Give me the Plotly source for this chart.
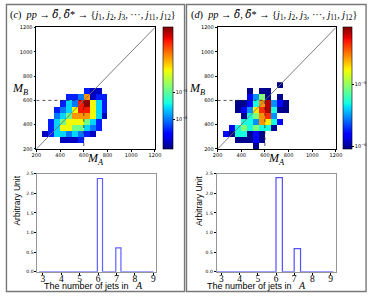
import numpy as np
import plotly.graph_objects as go

W, H = 374, 298
_ = None

# ---------------- data ----------------
mass_edges_start = 200          # GeV, bins of 50 GeV
mass_bin = 50
tick_mass = [200, 400, 600, 800, 1000, 1200]

# left panel (c): density per 50x50 GeV cell, rows = M_B bins from 200, cols = M_A bins from 200
dens_c = [
    [_, _, _, _, _, _, _, _, _, _, _, _, _, _],
    [_, _, _, _, 1.5e-7, 1.5e-7, 1.5e-7, 4e-7, _, _, _, _, _, _],
    [_, 1.5e-7, 4e-7, 2.5e-6, 2.5e-6, 1e-6, 2.5e-6, 1e-6, 4e-7, 1.5e-7, _, _, _, _],
    [_, _, 4e-7, 2.5e-6, 6e-5, 6e-5, 1.2e-5, 1.2e-5, 2.5e-6, 1e-6, 4e-7, _, _, _],
    [_, _, 4e-7, 2.5e-6, 1.2e-5, 6e-5, 6e-5, 6e-5, 1.2e-5, 2.5e-6, 4e-7, _, _, _],
    [_, _, _, 1e-6, 2.5e-6, 1.2e-5, 1.8e-4, 1.8e-4, 1.8e-4, 6e-5, 2.5e-6, 1.5e-7, _, _],
    [_, _, _, 4e-7, 1e-6, 2.5e-6, 6e-5, 7e-4, 7e-4, 6e-5, 2.5e-6, 4e-7, _, _],
    [_, _, _, _, 4e-7, 2.5e-6, 1e-6, 7e-4, 2e-3, 6e-5, 2.5e-6, 4e-7, _, _],
    [_, _, _, _, _, 4e-7, 4e-7, 1e-6, 1.8e-4, 1.5e-7, 4e-7, 4e-7, _, _],
    [_, _, _, _, _, _, _, _, 4e-7, 1.5e-7, 1.5e-7, _, _, _],
    [_, _, _, _, _, _, _, _, _, _, _, _, _, _],
]
# right panel (d)
dens_d = [
    [_, _, _, _, _, _, 9.5e-7, _, _, _, _, _, _, _],
    [_, _, _, 9.5e-7, 9.5e-7, 9.5e-7, 1.6e-6, 9.5e-7, _, _, _, _, _, _],
    [_, 1.6e-6, 9.5e-7, 5e-6, 5e-6, 9.5e-7, 1.6e-6, 9.5e-7, _, _, _, _, _, _],
    [_, _, 1.6e-6, 5e-6, 9e-6, 5e-6, 9e-6, 5e-6, 5e-6, 9.5e-7, _, _, _, _],
    [_, _, _, _, 5e-6, 5e-6, 3e-6, 2.8e-5, 1.8e-5, 5e-6, 1.6e-6, _, _, _],
    [_, _, _, _, 9.5e-7, 5e-6, 9e-6, 2.8e-5, 4.5e-5, 3e-6, _, _, _, _],
    [_, _, _, 9.5e-7, 1.6e-6, 3e-6, 1.8e-5, 4.5e-5, 7e-5, 5e-6, 9.5e-7, 9.5e-7, _, _],
    [_, _, _, 9.5e-7, 9.5e-7, 1.6e-6, 5e-6, 2.8e-5, 7e-5, 3e-6, 1.6e-6, 9.5e-7, _, _],
    [_, _, _, _, _, 1.6e-6, 3e-6, 9e-6, 9.5e-7, _, 9.5e-7, _, _, _],
    [_, _, _, _, _, 9.5e-7, _, 9.5e-7, 9.5e-7, _, _, _, _, _],
    [_, _, _, _, _, _, _, _, _, _, 9.5e-7, _, _, _],
]
cbar_range_c = (-7.08, -2.64)   # log10 density
cbar_range_d = (-6.05, -4.07)

# jet-number histograms
n_jets = [3, 4, 5, 6, 7, 8]
hist_c = [0.0, 0.0, 0.0, 2.38, 0.61, 0.015]
hist_d = [0.0, 0.0, 0.0, 2.40, 0.59, 0.015]
hist_xticks = [3, 4, 5, 6, 7, 8, 9]
hist_yticks = [0.0, 0.5, 1.0, 1.5, 2.0, 2.5]


# ---------------- helpers ----------------
def px_x(p):
    return p / W


def px_y(p):
    return 1 - p / H


def jet_scale():
    r = [(0, 0), (0.35, 0), (0.66, 1), (0.89, 1), (1, 0.5)]
    g = [(0, 0), (0.125, 0), (0.375, 1), (0.64, 1), (0.91, 0), (1, 0)]
    b = [(0, 0.5), (0.11, 1), (0.34, 1), (0.65, 0), (1, 0)]
    stops = sorted(set([s for s, _v in r + g + b]))
    out = []
    for s in stops:
        rr = np.interp(s, [a for a, _v in r], [v for _a, v in r])
        gg = np.interp(s, [a for a, _v in g], [v for _a, v in g])
        bb = np.interp(s, [a for a, _v in b], [v for _a, v in b])
        out.append([s, f"rgb({int(rr*255)},{int(gg*255)},{int(bb*255)})"])
    return out


JET = jet_scale()

fig = go.Figure()

panels = [
    dict(dens=dens_c, cr=cbar_range_c, x0=32.3, x1=154.5, cbx=162.5, cbw=9.5,
         xa="x", ya="y", xaxis="xaxis", yaxis="yaxis"),
    dict(dens=dens_d, cr=cbar_range_d, x0=219.0, x1=341.0, cbx=348.0, cbw=8.5,
         xa="x2", ya="y2", xaxis="xaxis2", yaxis="yaxis2"),
]
hy0, hy1 = 25.0, 149.0

for p in panels:
    dens = p["dens"]
    nrow, ncol = len(dens), len(dens[0])
    xc = [mass_edges_start + mass_bin * (i + 0.5) for i in range(ncol)]
    yc = [mass_edges_start + mass_bin * (j + 0.5) for j in range(nrow)]
    z = [[(np.log10(v) if v is not None else None) for v in row] for row in dens]
    fig.add_trace(go.Heatmap(
        x=xc, y=yc, z=z, xaxis=p["xa"], yaxis=p["ya"],
        colorscale=JET, zmin=p["cr"][0], zmax=p["cr"][1], hoverongaps=False,
        colorbar=dict(
            x=px_x(p["cbx"]), xanchor="left", y=px_y((hy0 + hy1) / 2), yanchor="middle",
            len=(hy1 - hy0) / H, lenmode="fraction", thickness=p["cbw"], thicknessmode="pixels",
            xpad=0, ypad=0, outlinewidth=0.6, outlinecolor="black",
            tickvals=[-5, -6], ticktext=["10<sup>−5</sup>", "10<sup>−6</sup>"],
            ticks="outside", ticklen=2, tickwidth=0.6, tickcolor="black",
            tickfont=dict(size=5, family="DejaVu Sans", color="black"),
        ),
    ))
    # diagonal and guide lines
    fig.add_trace(go.Scatter(x=[200, 1200], y=[200, 1200], mode="lines",
                             line=dict(color="rgb(110,110,110)", width=0.9),
                             xaxis=p["xa"], yaxis=p["ya"], showlegend=False, hoverinfo="skip"))
    fig.add_trace(go.Scatter(x=[200, 600, 600], y=[600, 600, 200], mode="lines",
                             line=dict(color="rgb(40,40,40)", width=0.8, dash="dot"),
                             xaxis=p["xa"], yaxis=p["ya"], showlegend=False, hoverinfo="skip"))
    ax_common = dict(range=[200, 1200], tickvals=tick_mass, ticks="outside", ticklen=2,
                     tickwidth=0.6, tickcolor="black", showgrid=False, zeroline=False,
                     showline=True, mirror=True, linecolor="black", linewidth=0.7,
                     tickfont=dict(size=5, family="DejaVu Sans", color="black"))
    fig.update_layout(**{
        p["xaxis"]: dict(domain=[px_x(p["x0"]), px_x(p["x1"])], anchor=p["ya"],
                         ticklabelstandoff=-1, **ax_common),
        p["yaxis"]: dict(domain=[px_y(hy1), px_y(hy0)], anchor=p["xa"], **ax_common),
    })

# histograms
hpanels = [
    dict(vals=hist_c, x0=33.3, x1=155.7, xr=[2.70, 9.15], off=-0.04, w=0.28, base=[2.8, 9.0],
         xa="x3", ya="y3", xaxis="xaxis3", yaxis="yaxis3", col="rgb(95,95,255)"),
    dict(vals=hist_d, x0=218.0, x1=341.0, xr=[2.73, 9.30], off=0.0, w=0.35, base=[2.75, 9.15],
         xa="x4", ya="y4", xaxis="xaxis4", yaxis="yaxis4", col="rgb(80,80,255)"),
]
gy0, gy1 = 174.3, 274.3
for p in hpanels:
    xs, ys = [p["base"][0]], [0.0]
    for n, v in zip(n_jets, p["vals"]):
        if v > 0:
            a = n + p["off"]
            b = a + p["w"]
            xs += [a, a, b, b]
            ys += [0.0, v, v, 0.0]
    xs.append(p["base"][1])
    ys.append(0.0)
    fig.add_trace(go.Scatter(x=xs, y=ys, mode="lines", line=dict(color=p["col"], width=1.2),
                             xaxis=p["xa"], yaxis=p["ya"], showlegend=False, hoverinfo="skip"))
    fig.update_layout(**{
        p["xaxis"]: dict(domain=[px_x(p["x0"]), px_x(p["x1"])], anchor=p["ya"], range=p["xr"],
                         tickvals=hist_xticks, ticks="outside", ticklen=2, tickwidth=0.6,
                         tickcolor="black", showgrid=False, zeroline=False, showline=True,
                         mirror=True, linecolor="rgb(150,150,150)", linewidth=0.8,
                         ticklabelstandoff=-4,
                         tickfont=dict(size=9.5, family="Liberation Serif", color="black")),
        p["yaxis"]: dict(domain=[px_y(gy1), px_y(gy0)], anchor=p["xa"], range=[0, 2.5],
                         tickvals=hist_yticks, ticktext=[f"{t:.1f}" for t in hist_yticks],
                         ticks="outside", ticklen=2, tickwidth=0.6, tickcolor="black",
                         showgrid=False, zeroline=False, showline=True, mirror=True,
                         linecolor="rgb(150,150,150)", linewidth=0.8,
                         tickfont=dict(size=4.5, family="DejaVu Sans", color="black")),
    })

# text
dtil = "<span style='font-family:DejaVu Serif'><i>δ̃</i></span>"
title_body = (f"<i>pp</i> → {dtil}, {dtil}* → {{<i>j</i><sub>1</sub>, <i>j</i><sub>2</sub>, "
              "<i>j</i><sub>3</sub>, ···, <i>j</i><sub>11</sub>, <i>j</i><sub>12</sub>}")
serif = "Liberation Serif"
ann = []


def add_text(x, y, text, size, family=serif, xanchor="center", angle=0):
    ann.append(dict(x=px_x(x), y=px_y(y), xref="paper", yref="paper", xanchor=xanchor,
                    yanchor="middle", showarrow=False, text=text, textangle=angle,
                    font=dict(family=family, size=size, color="black")))


for lab, x in [("c", 3), ("d", 190)]:
    add_text(x, 12.5, f"(<i>{lab}</i>)  " + title_body, 10.3, xanchor="left")
for xb, xa in [(15.5, 93.5), (197.5, 280)]:
    add_text(xb, 88, "<i>M</i><sub><i>B</i></sub>", 12)
    add_text(xa, 159, "<i>M</i><sub><i>A</i></sub>", 12)
for xy, xr, xA in [(12, 130, 131.5), (200, 298, 299.5)]:
    add_text(xy, 202, "Arbitrary Unit", 8.5, family="Liberation Sans", angle=-90)
    add_text(xr, 288.5, "The number of jets in", 9, family="Liberation Sans", xanchor="right")
    add_text(xA, 288.5, "<i>A</i>", 10, xanchor="left")

shapes = []
for x0, x1 in [(1.5, 185.0), (187.0, 372.0)]:
    shapes.append(dict(type="rect", xref="paper", yref="paper", x0=px_x(x0), x1=px_x(x1),
                       y0=px_y(294.5), y1=px_y(1.5), line=dict(color="rgb(120,120,120)", width=1.4)))

fig.update_layout(width=W, height=H, margin=dict(l=0, r=0, t=0, b=0),
                  paper_bgcolor="white", plot_bgcolor="white", showlegend=False,
                  annotations=ann, shapes=shapes)

fig.write_html("out.html", config={"displayModeBar": False},
               post_script="document.body.style.margin='0px';document.body.style.padding='0px';")
